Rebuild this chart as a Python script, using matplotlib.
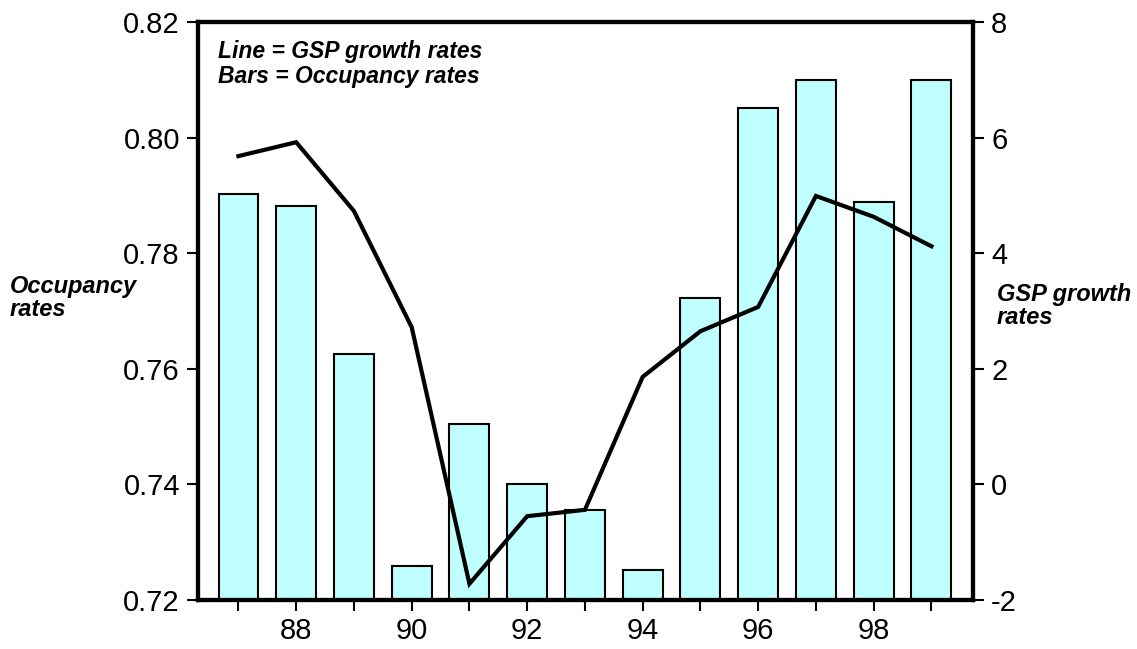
import matplotlib
matplotlib.use("Agg")
import matplotlib.pyplot as plt
import numpy as np

years = [87, 88, 89, 90, 91, 92, 93, 94, 95, 96, 97, 98, 99]
occupancy = [0.7902, 0.7882, 0.7626, 0.7259, 0.7505, 0.7401, 0.7356, 0.7252,
             0.7723, 0.8051, 0.8100, 0.7889, 0.8100]
gsp_growth = [5.68, 5.92, 4.73, 2.72, -1.72, -0.55, -0.44, 1.86, 2.65, 3.07,
              4.99, 4.63, 4.12]
left_ticks = [0.72, 0.74, 0.76, 0.78, 0.80, 0.82]
right_ticks = [-2, 0, 2, 4, 6, 8]
xlabels = {88: "88", 90: "90", 92: "92", 94: "94", 96: "96", 98: "98"}

plt.rcParams['font.family'] = ['Liberation Sans', 'DejaVu Sans']

fig = plt.figure(figsize=(11.37, 6.49), dpi=100)
ax = fig.add_axes([198/1137, 1-600/649, (973-198)/1137, (600-22)/649])

ymin, ymax = 0.72, 0.82
ax.bar(years, np.array(occupancy) - ymin, bottom=ymin, width=0.69,
       color="#C0FFFF", edgecolor="black", linewidth=1.5, zorder=2)
ax.set_ylim(ymin, ymax)
ax.set_xlim(86.3, 99.72)
ax.set_yticks(left_ticks)
ax.set_yticklabels([f"{v:.2f}" for v in left_ticks])
ax.set_xticks(years)
ax.set_xticklabels([xlabels.get(y, "") for y in years])

ax2 = ax.twinx()
ax2.plot(years, gsp_growth, color="black", linewidth=3, zorder=3,
         solid_joinstyle="miter")
ax2.set_ylim(-2, 8)
ax2.set_yticks(right_ticks)
ax2.set_yticklabels([str(v) for v in right_ticks])

for a in (ax, ax2):
    for s in a.spines.values():
        s.set_linewidth(3)
    a.tick_params(direction="out", length=8, width=1.5, labelsize=21, pad=5)
ax.tick_params(axis="x", pad=4)

ax.text(0.026, 0.968, "Line = GSP growth rates\nBars = Occupancy rates",
        transform=ax.transAxes, ha="left", va="top", fontsize=16.5,
        fontweight="bold", fontstyle="italic", linespacing=1.08)

fig.text(10/1137, 1-275/649, "Occupancy\nrates", ha="left", va="top",
         fontsize=17, fontweight="bold", fontstyle="italic", linespacing=1.02)
fig.text(997/1137, 1-283/649, "GSP growth\nrates", ha="left", va="top",
         fontsize=17, fontweight="bold", fontstyle="italic", linespacing=1.02)

fig.savefig("out.png", dpi=100)
